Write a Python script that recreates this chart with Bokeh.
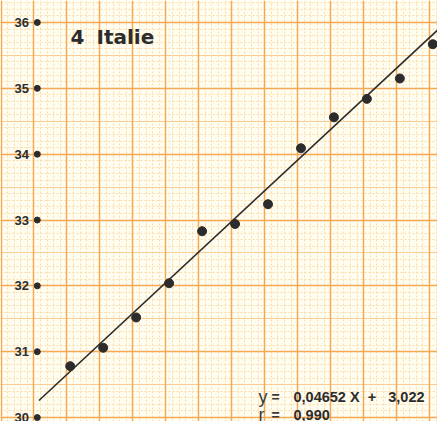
import numpy as np
from bokeh.plotting import figure
from bokeh.models import Grid, FixedTicker, Label, ColumnDataSource
from bokeh.core.properties import value
from bokeh.embed import file_html
from bokeh.resources import INLINE

# Panel title
panel_number = "4"
country = "Italie"

# Observations (X, y)
x_vals = [595, 605, 615, 625, 635, 645, 655, 665, 675, 685, 695, 705]
y_vals = [30.78, 31.06, 31.52, 32.04, 32.83, 32.94, 33.24, 34.09, 34.56, 34.84, 35.15, 35.67]

# Fitted regression
slope = 0.04652
intercept = 3.022
r_value = 0.990

# y axis ticks
y_ticks = [30, 31, 32, 33, 34, 35, 36]
y_tick_labels = ["30", "31", "32", "33", "34", "35", "36"]

X_MIN, X_MAX = 573.84, 706.42
Y_MIN, Y_MAX = 29.94, 36.334
AXIS_X = 584          # vertical axis line of the graph paper
TICK_X = 585          # tick dots
LINE_START = 585.5    # start of the fitted line

PAPER = "#fffdf0"
FINE = "#fbdcaa"
MEDIUM = "#f9cd96"
BOLD = "#f6a955"
INK = "#2c2c2c"

p = figure(width=437, height=421, x_range=(X_MIN, X_MAX), y_range=(Y_MIN, Y_MAX),
           x_axis_type=None, y_axis_type=None, toolbar_location=None,
           output_backend="svg", min_border=0)
p.outline_line_color = None
p.background_fill_color = PAPER
p.border_fill_color = PAPER

# Millimetre graph paper: fine dotted lines, medium half-unit lines, bold lines
fine_v = list(np.arange(AXIS_X - 10, X_MAX + 2, 2))
fine_h = list(np.round(np.arange(29.9, 36.4, 0.1), 2))
bold_v = list(np.arange(AXIS_X - 10, X_MAX + 10, 10))
half_h = [v + 0.5 for v in range(29, 37)]

for dim, ticks in ((0, fine_v), (1, fine_h)):
    p.add_layout(Grid(dimension=dim, ticker=FixedTicker(ticks=ticks),
                      grid_line_color=FINE, grid_line_width=1,
                      grid_line_dash="2 2"))
p.add_layout(Grid(dimension=1, ticker=FixedTicker(ticks=half_h),
                  grid_line_color=MEDIUM, grid_line_width=1))
p.add_layout(Grid(dimension=0, ticker=FixedTicker(ticks=bold_v),
                  grid_line_color=BOLD, grid_line_width=1.5))
p.add_layout(Grid(dimension=1, ticker=FixedTicker(ticks=y_ticks),
                  grid_line_color=BOLD, grid_line_width=1.5))

# Tick dots and labels on the vertical axis
ticks_src = ColumnDataSource(dict(x=[TICK_X] * len(y_ticks), y=y_ticks, label=y_tick_labels))
p.scatter("x", "y", source=ticks_src, size=6, color=INK)
p.text(x=AXIS_X - 1.5, y="y", text="label", source=ticks_src,
       text_font=value("Liberation Sans"), text_font_style="bold",
       text_font_size="13px", text_color=INK, text_align="right",
       text_baseline="middle")

# Regression line from the fitted equation
line_x = [LINE_START, X_MAX]
line_y = [slope * x + intercept for x in line_x]
p.line(line_x, line_y, line_color=INK, line_width=1.6)

# Observations
p.scatter(x_vals, y_vals, size=9, color=INK)

# Title
for x0, txt in ((70, panel_number), (96, country)):
    p.add_layout(Label(x=x0, y=385, x_units="screen", y_units="screen", text=txt,
                       text_font="DejaVu Sans", text_font_style="bold",
                       text_font_size="20px", text_color=INK,
                       text_baseline="alphabetic"))

# Equation and correlation coefficient
def fr(v, d):
    return f"{v:.{d}f}".replace(".", ",")

NB = "\u00a0"
rows = (
    (25, "y", f"{fr(slope, 5)} X{NB * 2}+{NB * 3}{fr(intercept, 3)}"),
    (7, "r", fr(r_value, 3)),
)
for base, sym, num in rows:
    p.add_layout(Label(x=258, y=base, x_units="screen", y_units="screen", text=sym,
                       text_font="Liberation Sans", text_font_size="18px",
                       text_color="#3a3a3a", text_baseline="alphabetic"))
    p.add_layout(Label(x=271, y=base, x_units="screen", y_units="screen", text="=",
                       text_font="Liberation Sans", text_font_style="bold",
                       text_font_size="14px", text_color="#3a3a3a",
                       text_baseline="alphabetic"))
    p.add_layout(Label(x=293, y=base, x_units="screen", y_units="screen", text=num,
                       text_font="Liberation Sans", text_font_style="bold",
                       text_font_size="14.5px", text_color=INK,
                       text_baseline="alphabetic"))

open("out.html", "w").write(file_html(p, INLINE))
